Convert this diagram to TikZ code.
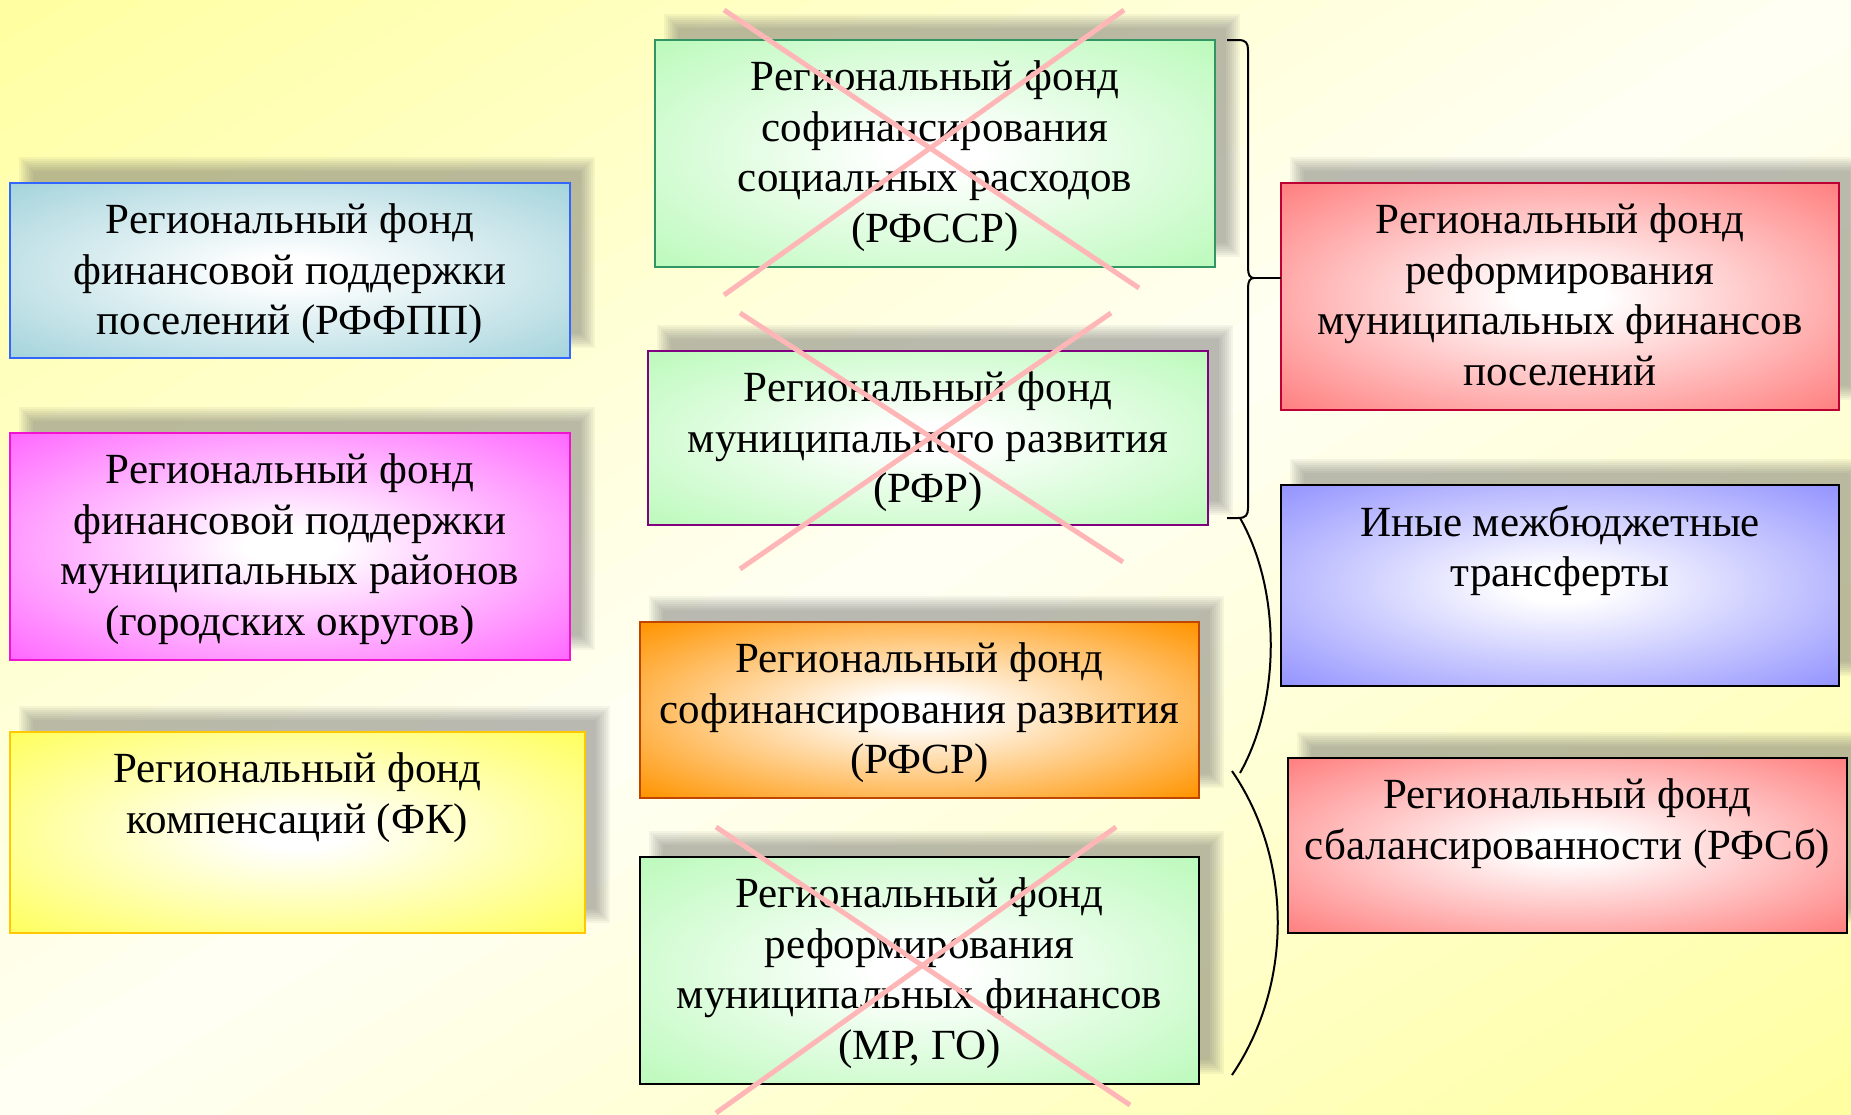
\documentclass[tikz,border=0pt]{standalone}
\usepackage{fontspec}
\setmainfont{Liberation Serif}
\definecolor{bgY}{RGB}{255,255,160}
\definecolor{bgW}{RGB}{255,255,245}
\definecolor{shc}{RGB}{105,105,105}
\definecolor{xpink}{RGB}{255,182,182}
\definecolor{c1}{RGB}{165,212,220}
\definecolor{b1}{RGB}{51,102,255}
\definecolor{c2}{RGB}{255,105,255}
\definecolor{b2}{RGB}{240,20,210}
\definecolor{c3}{RGB}{255,255,95}
\definecolor{b3}{RGB}{255,200,0}
\definecolor{cg}{RGB}{188,250,188}
\definecolor{b4}{RGB}{50,150,100}
\definecolor{b5}{RGB}{128,0,128}
\definecolor{c6}{RGB}{255,148,0}
\definecolor{b6}{RGB}{190,70,0}
\definecolor{c8}{RGB}{255,128,128}
\definecolor{b8}{RGB}{190,0,50}
\definecolor{c9}{RGB}{148,148,255}
\colorlet{boxouter}{c1}
\pgfdeclareradialshading[boxouter]{boxrad}{\pgfpoint{0bp}{0bp}}{color(0bp)=(white); color(4bp)=(white); color(35bp)=(boxouter); color(50bp)=(boxouter)}
\newcommand\shadowbox[4]{%
  \foreach \k in {0,...,7}{%
    \fill[shc, opacity=0.07] ({#1+17-8+2*\k},{#2-18-8+2*\k}) rectangle ({#3+17+8-2*\k},{#4-18+8-2*\k});
  }%
}
\newcommand\mkbox[8]{%
  \shadowbox{#2}{#3}{#4}{#5}%
  \pgfmathsetmacro\bw{(#4-#2)*0.5}%
  \pgfmathsetmacro\bh{(#5-#3)*0.5}%
  \colorlet{boxouter}{#6}%
  \node[box, draw=#7, minimum width=\bw pt, minimum height=\bh pt] (#1) at ({(#2+#4)/2},{(#3+#5)/2}) {};%
  \node[txt] (#1t) at ([yshift=-10pt]#1.north) {#8};%
}
\begin{document}
\begin{tikzpicture}[x=0.5pt,y=-0.5pt,
  box/.style={draw, line width=1.1pt, inner sep=0pt, outer sep=0pt, shade, shading=boxrad},
  txt/.style={anchor=north, align=center, inner sep=0pt, font=\fontsize{21.5}{25.4}\selectfont},
  conn/.style={line width=1pt, draw=black},
  xline/.style={draw=xpink, line width=2.5pt}]
\useasboundingbox (0,0) rectangle (1851,1114);
% background diagonal gradient
\begin{scope}
\clip (0,0) rectangle (1851,1114);
\foreach \i in {0,...,49}{
  \pgfmathsetmacro\ua{\i*0.04}
  \pgfmathsetmacro\ub{\ua+0.046}
  \pgfmathsetmacro\pp{abs(\ua+0.02-1)*100}
  \fill[bgY!\pp!bgW] ({(\ua+1)*1851},-1114) -- ({(\ub+1)*1851},-1114) -- ({(\ub-3)*1851},3342) -- ({(\ua-3)*1851},3342) -- cycle;
}
\end{scope}
% boxes
\mkbox{b1}{10}{183}{570}{358}{c1}{b1}{Региональный фонд\\финансовой поддержки\\поселений (РФФПП)}
\mkbox{b2}{10}{433}{570}{660}{c2}{b2}{Региональный фонд\\финансовой поддержки\\муниципальных районов\\(городских округов)}
\mkbox{b3}{10}{732}{585}{933}{c3}{b3}{Региональный фонд\\компенсаций (ФК)}
\mkbox{b4}{655}{40}{1215}{267}{cg}{b4}{Региональный фонд\\софинансирования\\социальных расходов\\(РФССР)}
\mkbox{b5}{648}{351}{1208}{525}{cg}{b5}{Региональный фонд\\муниципального развития\\(РФР)}
\mkbox{b6}{640}{622}{1199}{798}{c6}{b6}{Региональный фонд\\софинансирования развития\\(РФСР)}
\mkbox{b7}{640}{857}{1199}{1084}{cg}{black}{Региональный фонд\\реформирования\\муниципальных финансов\\(МР, ГО)}
\mkbox{b8}{1281}{183}{1839}{410}{c8}{b8}{Региональный фонд\\реформирования\\муниципальных финансов\\поселений}
\mkbox{b9}{1281}{485}{1839}{686}{c9}{black}{Иные межбюджетные\\трансферты}
\mkbox{b10}{1288}{758}{1847}{933}{c8}{black}{Региональный фонд\\сбалансированности (РФСб)}
% brace
\coordinate (brtop) at (1227,40);
\coordinate (brtip) at (1254,278);
\coordinate (brbot) at (1227,518);
\draw[conn] (brtop) -- (1238,40) .. controls (1246,40) and (1248,43) .. (1248,50) -- (1248,268) .. controls (1248,275) and (1250,278) .. (brtip) .. controls (1250,278) and (1248,281) .. (1248,288) -- (1248,508) .. controls (1248,515) and (1246,518) .. (1238,518) -- (brbot);
\draw[conn] (brtip) -- (brtip -| b8.west);
% curved brackets
\coordinate (ca1) at (1240,518);
\coordinate (ca2) at (1240,773);
\coordinate (cb1) at (1232,771);
\coordinate (cb2) at (1232,1075);
\draw[conn] (ca1) .. controls (1281,590) and (1281,700) .. (ca2);
\draw[conn] (cb1) .. controls (1293,860) and (1293,985) .. (cb2);
% crosses
\draw[xline] (724,10) -- (1139,288);
\draw[xline] (1124,10) -- (724,295);
\draw[xline] (740,313) -- (1123,562);
\draw[xline] (1111,313) -- (740,569);
\draw[xline] (716,827) -- (1130,1105);
\draw[xline] (1116,827) -- (716,1113);
\end{tikzpicture}
\end{document}
